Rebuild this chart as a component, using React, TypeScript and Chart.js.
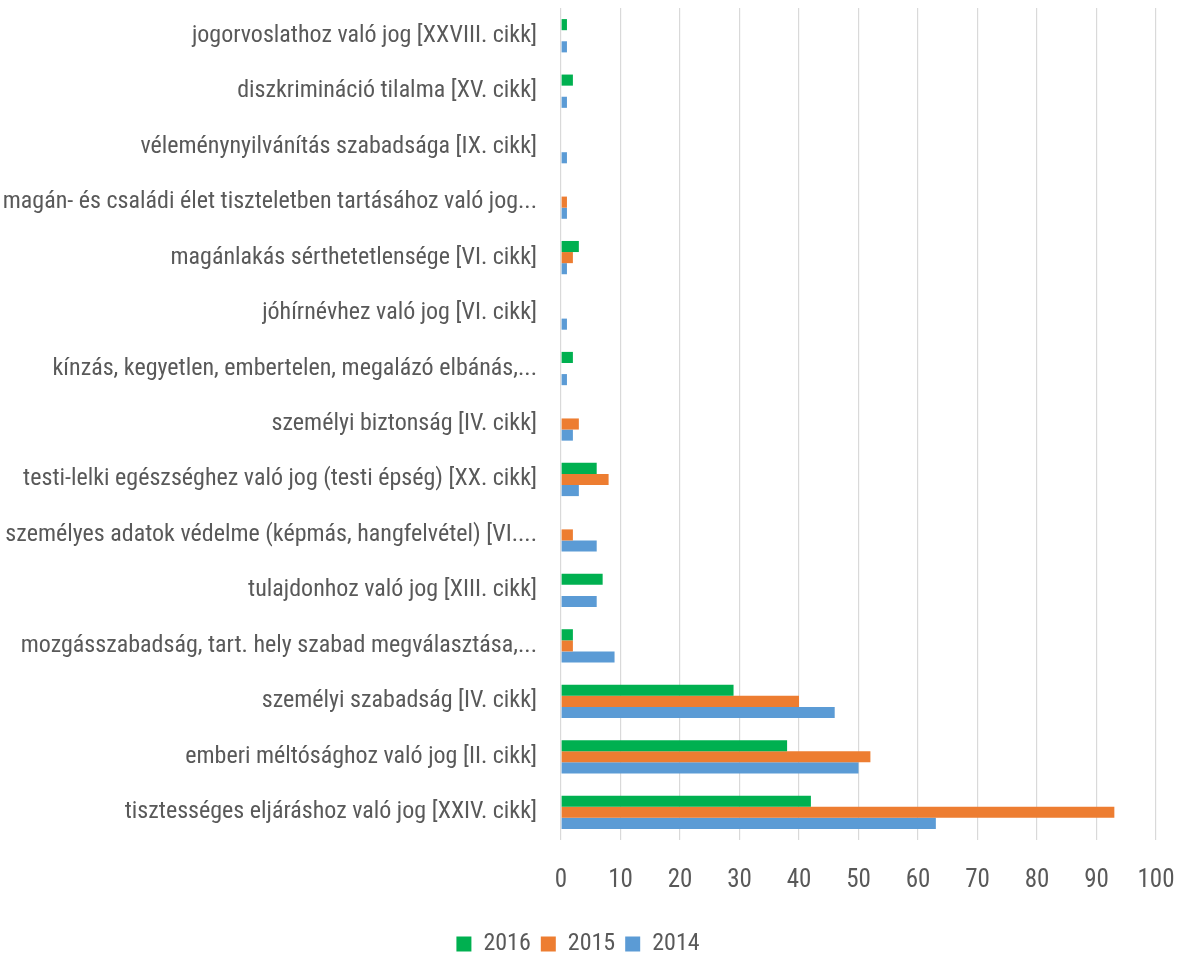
import React, { useEffect, useRef } from "react";
import { Chart, registerables } from "chart.js";

Chart.register(...registerables);

const categories = [
  "jogorvoslathoz való jog [XXVIII. cikk]",
  "diszkrimináció tilalma [XV. cikk]",
  "véleménynyilvánítás szabadsága [IX. cikk]",
  "magán- és családi élet tiszteletben tartásához való jog...",
  "magánlakás sérthetetlensége [VI. cikk]",
  "jóhírnévhez való jog [VI. cikk]",
  "kínzás, kegyetlen, embertelen, megalázó elbánás,...",
  "személyi biztonság [IV. cikk]",
  "testi-lelki egészséghez való jog (testi épség) [XX. cikk]",
  "személyes adatok védelme (képmás, hangfelvétel) [VI....",
  "tulajdonhoz való jog [XIII. cikk]",
  "mozgásszabadság, tart. hely szabad megválasztása,...",
  "személyi szabadság [IV. cikk]",
  "emberi méltósághoz való jog [II. cikk]",
  "tisztességes eljáráshoz való jog [XXIV. cikk]",
];

const values2016 = [1, 2, 0, 0, 3, 0, 2, 0, 6, 0, 7, 2, 29, 38, 42];
const values2015 = [0, 0, 0, 1, 2, 0, 0, 3, 8, 2, 0, 2, 40, 52, 93];
const values2014 = [1, 1, 1, 1, 1, 1, 1, 2, 3, 6, 6, 9, 46, 50, 63];

const seriesNames = ["2016", "2015", "2014"];
const seriesColors = ["#00B050", "#ED7D31", "#5B9BD5"];

const FONT = '"Liberation Sans Narrow", "Arial Narrow", "Roboto Condensed", sans-serif';
const TEXT = "#595959";
const CANVAS_H = 966;

export default function App() {
  const ref = useRef<HTMLCanvasElement | null>(null);
  useEffect(() => {
    if (!ref.current) return;
    const chart = new Chart(ref.current, {
      type: "bar",
      data: {
        labels: categories,
        datasets: [values2016, values2015, values2014].map((d, i) => ({
          label: seriesNames[i],
          data: d,
          backgroundColor: seriesColors[i],
          borderWidth: 0,
          categoryPercentage: 0.6,
          barPercentage: 1,
        })),
      },
      options: {
        indexAxis: "y",
        animation: false,
        responsive: false,
        maintainAspectRatio: false,
        layout: { padding: { top: 8, right: 28, left: 0, bottom: 0 } },
        plugins: {
          tooltip: { enabled: false },
          legend: {
            position: "bottom",
            labels: {
              boxWidth: 15,
              boxHeight: 15,
              padding: 10,
              color: TEXT,
              font: { family: FONT, size: 24 },
            },
          },
        },
        scales: {
          x: {
            min: 0,
            max: 100,
            ticks: {
              stepSize: 10,
              color: TEXT,
              padding: 26,
              font: { family: FONT, size: 25 },
            },
            grid: { color: "#d9d9d9", lineWidth: 1.2, drawTicks: false },
            border: { display: false },
            afterFit: (s: any) => {
              s.height = 82;
              s.paddingLeft = 0;
              s.paddingRight = 0;
            },
          },
          y: {
            ticks: {
              color: TEXT,
              padding: 24,
              autoSkip: false,
              font: { family: FONT, size: 24 },
            },
            grid: { display: false, drawTicks: false },
            border: { display: false },
            afterFit: (s: any) => {
              s.width = 561;
              s.paddingTop = 0;
              s.paddingBottom = 0;
            },
          },
        },
      },
    });
    return () => chart.destroy();
  }, []);
  return (
    <div style={{ position: "fixed", left: 0, top: 0, width: 1184, height: 956, overflow: "hidden", background: "#fff" }}>
      <canvas ref={ref} width={1184} height={CANVAS_H} style={{ width: 1184, height: CANVAS_H }} />
    </div>
  );
}
